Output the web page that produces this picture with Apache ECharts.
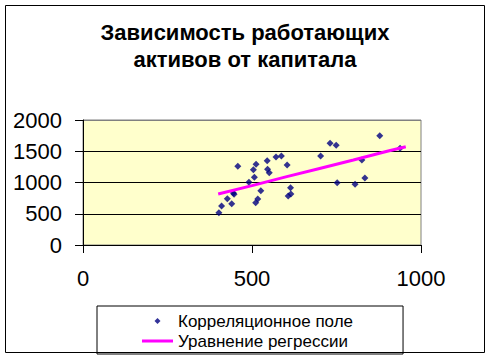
<!DOCTYPE html>
<html>
<head>
<meta charset="utf-8">
<script src="https://cdn.jsdelivr.net/npm/echarts@6/dist/echarts.min.js"></script>
<style>html,body{margin:0;padding:0;background:#fff}#c{width:490px;height:361px}</style>
</head>
<body>
<div id="c"></div>
<script>
var titleLines = ['Зависимость работающих', 'активов от капитала'];
var scatterName = 'Корреляционное поле';
var lineName = 'Уравнение регрессии';
var capitalX = [402, 410, 427, 440, 447, 445, 458, 491, 504, 512, 507, 511, 517, 526, 545, 546, 551, 571, 587, 604, 607, 615, 614, 731, 749, 703, 752, 805, 878, 825, 834, 938];
var assetsY = [517, 624, 741, 661, 811, 832, 1259, 1003, 1205, 1291, 1083, 677, 736, 869, 1349, 1211, 1157, 1408, 1424, 1280, 784, 816, 917, 1627, 1595, 1424, 997, 971, 1749, 1360, 1072, 1547];
var regX = [400, 500, 600, 700, 800, 900, 955];
var regY = [816, 950, 1090, 1225, 1360, 1500, 1573];
var xTicks = [0, 500, 1000];
var yTicks = [0, 500, 1000, 1500, 2000];

var font = '"Liberation Sans", Arial, sans-serif';
var scatterData = capitalX.map(function (x, i) { return [x, assetsY[i]]; });
var regData = regX.map(function (x, i) { return [x, regY[i]]; });
function svgIcon(body) {
  return 'image://data:image/svg+xml;utf8,' + encodeURIComponent(
    '<svg xmlns="http://www.w3.org/2000/svg" width="31" height="7" viewBox="0 0 31 7">' + body + '</svg>');
}
var diamondIcon = svgIcon('<path d="M15.5 0.5 L18.5 3.5 L15.5 6.5 L12.5 3.5 Z" fill="#000080"/>');
var lineIcon = svgIcon('<rect x="0" y="2" width="31" height="3" fill="#FF00FF"/>');

var chart = echarts.init(document.getElementById('c'), null, {renderer: 'svg'});
chart.setOption({
  backgroundColor: '#ffffff',
  animation: false,
  title: {
    text: titleLines.join('\n'),
    left: 'center',
    top: 14,
    textStyle: {fontFamily: font, fontSize: 22, fontWeight: 'bold', color: '#000', lineHeight: 27}
  },
  graphic: [{
    type: 'rect', z: 100,
    shape: {x: 5.5, y: 5.5, width: 479, height: 347},
    style: {fill: 'none', stroke: '#000', lineWidth: 1}
  }],
  legend: {
    left: 97, top: 306,
    orient: 'vertical',
    itemGap: 0,
    itemWidth: 31, itemHeight: 7,
    padding: [5, 50, 3, 45],
    borderColor: '#000', borderWidth: 1,
    backgroundColor: '#fff',
    textStyle: {fontFamily: font, fontSize: 17, color: '#000', lineHeight: 20},
    data: [{name: scatterName, icon: diamondIcon}, {name: lineName, icon: lineIcon}]
  },
  grid: {
    left: 83, right: 69, top: 120, bottom: 116,
    show: true, backgroundColor: '#FFFFCC', borderColor: '#808080', borderWidth: 1
  },
  xAxis: {
    type: 'value', min: xTicks[0], max: xTicks[xTicks.length - 1], interval: 500,
    axisLine: {show: true, onZero: false, lineStyle: {color: '#000', width: 1}},
    axisTick: {show: true, inside: false, length: 8, lineStyle: {color: '#000'}},
    axisLabel: {fontFamily: font, fontSize: 22, color: '#000', margin: 22, formatter: function (v) { return String(v); }},
    splitLine: {show: false}
  },
  yAxis: {
    type: 'value', min: yTicks[0], max: yTicks[yTicks.length - 1], interval: 500,
    axisLine: {show: true, lineStyle: {color: '#000', width: 1}},
    axisTick: {show: true, inside: false, length: 8, lineStyle: {color: '#000'}},
    axisLabel: {fontFamily: font, fontSize: 22, color: '#000', margin: 21, formatter: function (v) { return String(v); }},
    splitLine: {show: true, lineStyle: {color: ['#000000', '#000000', '#000000', '#000000', '#808080'], width: 1}}
  },
  series: [{
    name: scatterName,
    type: 'scatter',
    symbol: 'diamond',
    symbolSize: 7,
    itemStyle: {color: '#000080'},
    data: scatterData,
    z: 3
  }, {
    name: lineName,
    type: 'line',
    showSymbol: false,
    symbol: 'none',
    lineStyle: {color: '#FF00FF', width: 3},
    itemStyle: {color: '#FF00FF'},
    data: regData,
    z: 4
  }]
});
</script>
</body>
</html>
